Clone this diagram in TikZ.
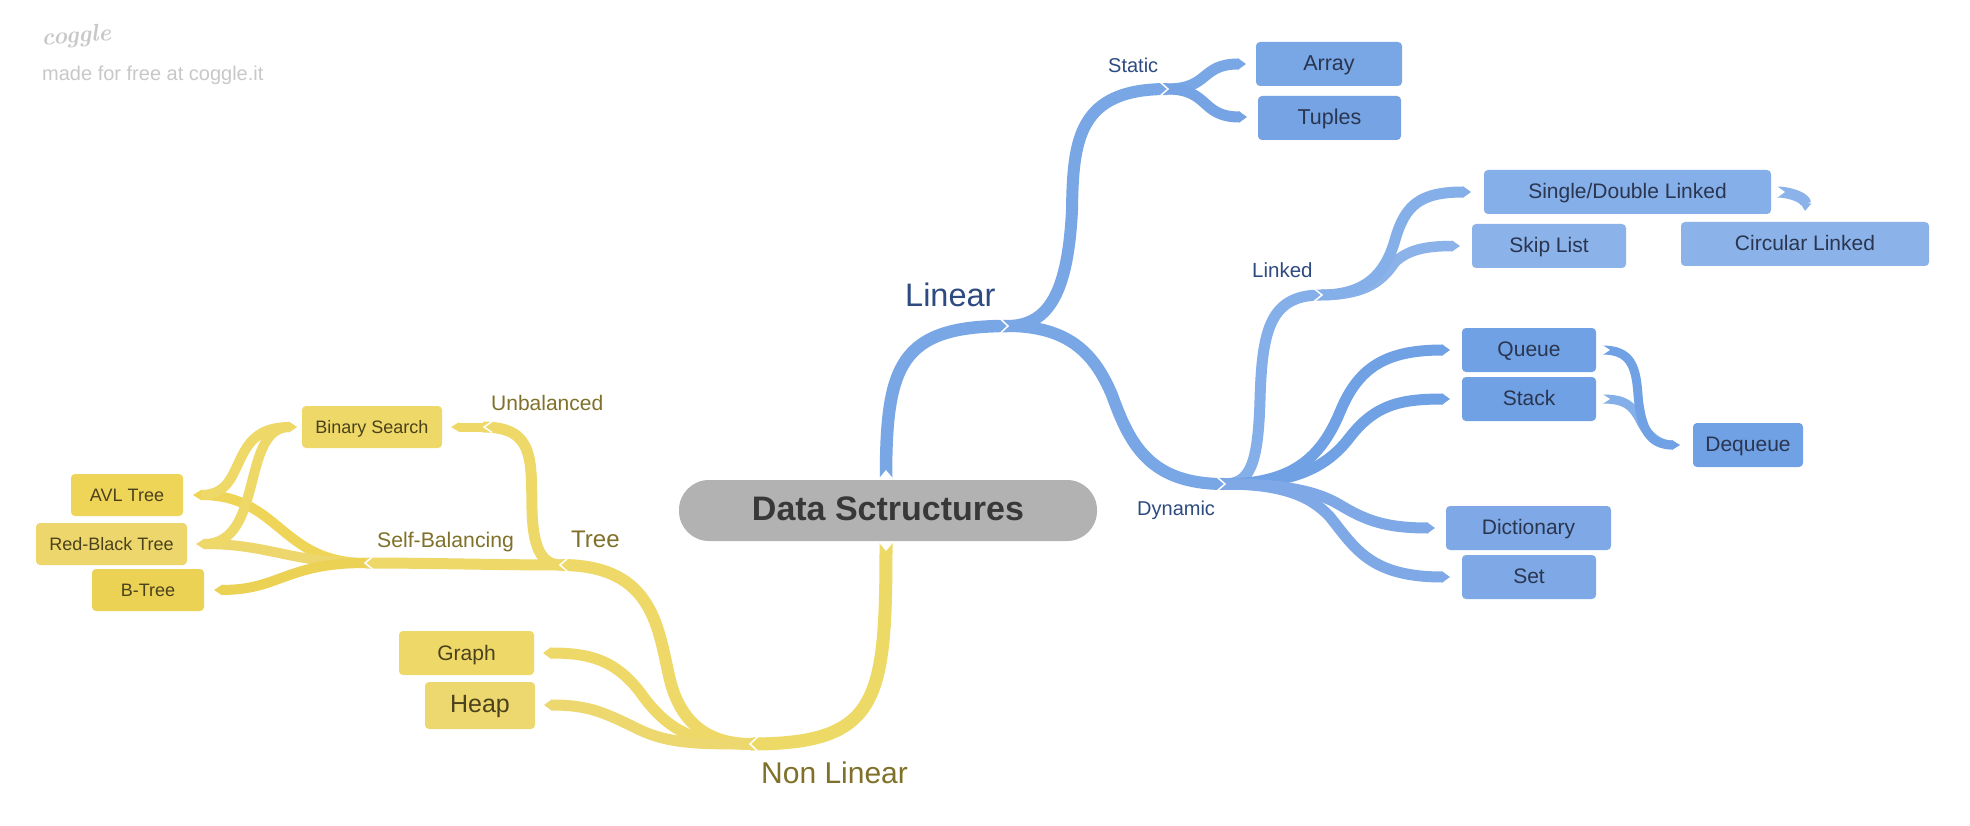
\documentclass[tikz,border=0pt]{standalone}
\usepackage{fontspec}
\newfontfamily\lib{Liberation Sans}
\usetikzlibrary{arrows.meta}
\definecolor{bLink}{HTML}{79A6E5}
\definecolor{bLkd}{HTML}{85AFE8}
\definecolor{bSkip}{HTML}{8BB3E9}
\definecolor{bQ}{HTML}{70A1E4}
\definecolor{bD}{HTML}{7EA9E6}
\definecolor{bT}{HTML}{75A3E3}
\definecolor{yN}{HTML}{EDD966}
\definecolor{yB}{HTML}{EED868}
\definecolor{yA}{HTML}{EED558}
\definecolor{yR}{HTML}{EDD66B}
\definecolor{yT}{HTML}{EBD255}
\definecolor{yH}{HTML}{EDD86F}
\definecolor{txB}{HTML}{2A3550}
\definecolor{txY}{HTML}{4A421C}
\definecolor{lbB}{HTML}{2D4B80}
\definecolor{lbY}{HTML}{7F7129}
\definecolor{logo}{HTML}{C8C8C8}
\tikzset{
  x=1pt,y=-1pt,
  ribbon/.style={line width=#1pt,line cap=butt,line join=round},
  tipped/.style={line width=#1pt,line cap=butt,line join=round,-{Triangle[length=8pt,width=#1pt]}},
  leafbox/.style n args={4}{draw=none,fill=#1,rounded corners=4pt,inner sep=0pt,
    minimum width=#2pt,minimum height=#3pt,text=#4},
  fs/.style={font=\lib\fontsize{#1}{#1}\selectfont},
  boxtext/.style={text height=#1pt,text depth=0pt},
  lab/.style={anchor=base west,inner sep=0pt},
  chev/.pic={\draw[white,line width=1.5pt,line join=miter] (-7,#1/2+1) -- (1,0) -- (-7,-#1/2-1);},
  notch/.pic={\fill[white] (-0.5,#1/2+1) -- (8,0) -- (-0.5,-#1/2-1) -- cycle;}
}
\begin{document}
\begin{tikzpicture}
\useasboundingbox (0,0) rectangle (1970,826);
\fill[white] (0,0) rectangle (1970,826);

% junctions and free ends
\coordinate (rT) at (886,478);
\coordinate (rB) at (886,543);
\coordinate (jLin) at (1007,326);
\coordinate (jSta) at (1167,89);
\coordinate (jDyn) at (1224,484);
\coordinate (jLkd) at (1321,295);
\coordinate (jNon) at (751,744);
\coordinate (jTree) at (561,565);
\coordinate (jSelf) at (366,563);
\coordinate (jUnb) at (483,427);
\coordinate (jAvl) at (193,495);
\coordinate (jAvlB) at (201,495);
\coordinate (jRed) at (196,544);
\coordinate (jRedB) at (204,544);
\coordinate (jQue) at (1602,350);
\coordinate (jSta2) at (1602,399);
\coordinate (jSin) at (1777,192);
\coordinate (eArr) at (1246,64);
\coordinate (eTup) at (1247,117);
\coordinate (eSin) at (1471,192);
\coordinate (eSki) at (1460,246);
\coordinate (eCir) at (1805,211);
\coordinate (eQue) at (1450,350);
\coordinate (eSta) at (1450,399);
\coordinate (eDeq) at (1680,445);
\coordinate (eDic) at (1435,528);
\coordinate (eSet) at (1450,577);
\coordinate (eBin) at (451,427);
\coordinate (eBin2) at (297,427);
\coordinate (eBtr) at (214,590);
\coordinate (eGra) at (543,653);
\coordinate (eHea) at (544,705);

% blue branches
\draw[ribbon=12.5,bLink] (rT) .. controls (886,365) and (900,326) .. (jLin);
\draw[ribbon=12,bLink] (jLin) .. controls (1050,326) and (1068,290) .. (1072,210) .. controls (1073,140) and (1078,89) .. (jSta);
\draw[ribbon=12,bLink] (jLin) .. controls (1070,326) and (1095,355) .. (1112,395) .. controls (1130,445) and (1150,484) .. (jDyn);
\draw[tipped=11,bLink] (jSta) .. controls (1210,89) and (1200,64) .. (eArr);
\draw[tipped=11,bT] (jSta) .. controls (1210,89) and (1200,117) .. (eTup);
\draw[ribbon=11,bLkd] (jDyn) .. controls (1250,484) and (1258,465) .. (1260,400) .. controls (1262,330) and (1270,295) .. (jLkd);
\draw[tipped=10.5,bSkip] (jLkd) .. controls (1360,295) and (1380,285) .. (1395,262) .. controls (1408,250) and (1425,246) .. (eSki);
\draw[tipped=11,bLkd] (jLkd) .. controls (1365,295) and (1385,275) .. (1395,240) .. controls (1405,205) and (1420,192) .. (eSin);
\draw[tipped=11,bQ] (jDyn) .. controls (1290,484) and (1320,460) .. (1340,412) .. controls (1358,368) and (1385,350) .. (eQue);
\draw[tipped=11,bQ] (jDyn) .. controls (1290,484) and (1325,470) .. (1350,437) .. controls (1375,405) and (1400,399) .. (eSta);
\draw[tipped=11,bD] (jDyn) .. controls (1280,484) and (1315,490) .. (1340,505) .. controls (1365,520) and (1385,528) .. (eDic);
\draw[tipped=11,bD] (jDyn) .. controls (1280,484) and (1310,495) .. (1330,517) .. controls (1355,548) and (1370,577) .. (eSet);
\draw[tipped=11,bSkip] (jSin) .. controls (1790,192) and (1806,198) .. (eCir);
\draw[tipped=9,bLkd] (jSta2) .. controls (1625,399) and (1632,405) .. (1640,420) .. controls (1648,437) and (1660,445) .. (eDeq);
\draw[tipped=9,bQ] (jQue) .. controls (1630,350) and (1636,365) .. (1638,395) .. controls (1641,430) and (1650,445) .. (eDeq);

% yellow branches
\draw[ribbon=13,yN] (rB) .. controls (886,700) and (880,744) .. (jNon);
\draw[ribbon=12,yB] (jNon) .. controls (705,744) and (680,720) .. (670,680) .. controls (658,630) and (655,565) .. (jTree);
\draw[tipped=11,yB] (jNon) .. controls (700,744) and (670,735) .. (640,692) .. controls (615,660) and (590,653) .. (eGra);
\draw[tipped=11,yH] (jNon) .. controls (700,744) and (670,744) .. (640,730) .. controls (605,713) and (590,705) .. (eHea);
\draw[ribbon=11,yB] (jTree) .. controls (500,565) and (430,563) .. (jSelf);
\draw[ribbon=11,yB] (jTree) .. controls (540,565) and (533,545) .. (532,510) .. controls (531,460) and (535,427) .. (jUnb);
\draw[tipped=9,yB] (jUnb) -- (eBin);
\draw[ribbon=10,yA] (jSelf) .. controls (280,563) and (280,495) .. (jAvlB);
\draw[ribbon=10,yR] (jSelf) .. controls (290,563) and (270,544) .. (jRedB);
\draw[tipped=10,yT] (jSelf) .. controls (285,563) and (280,590) .. (eBtr);
\draw[tipped=10,yB] (jAvlB) .. controls (250,495) and (225,427) .. (eBin2);
\draw[tipped=10,yB] (jRedB) .. controls (265,544) and (240,427) .. (eBin2);
% tips at the ends of AVL and Red-Black
\fill[yA] (jAvl) -- ([shift={(8,-5)}]jAvl) -- ([shift={(8,5)}]jAvl) -- cycle;
\fill[yR] (jRed) -- ([shift={(8,-5)}]jRed) -- ([shift={(8,5)}]jRed) -- cycle;

% white joints
\pic at (jLin) {chev=13};
\pic at (jSta) {chev=12};
\pic at (jDyn) {chev=12};
\pic at (jLkd) {chev=11};
\pic[rotate=180] at (jNon) {chev=13};
\pic[rotate=180] at (jTree) {chev=12};
\pic[rotate=180] at (jSelf) {chev=11};
\pic[rotate=180] at ([xshift=2pt]jUnb) {chev=9};
\pic[rotate=90] at (rT) {notch=12};
\pic[rotate=-90] at (rB) {notch=12};
\pic at (jQue) {notch=9};
\pic at (jSta2) {notch=9};
\pic at (jSin) {notch=10};

% boxes
\node[leafbox={bLink}{146}{44}{txB},fs=21.5,boxtext=13.4] (array) at (1329,64) {Array};
\node[leafbox={bT}{143}{44}{txB},fs=21.5,boxtext=13.4] (tuples) at (1329.5,118) {Tuples};
\node[leafbox={bLkd}{287}{44}{txB},fs=21,boxtext=13.4] (single) at (1627.5,192) {Single/Double Linked};
\node[leafbox={bSkip}{154}{44}{txB},fs=21,boxtext=13.4] (skip) at (1549,246) {Skip List};
\node[leafbox={bSkip}{248}{44}{txB},fs=21,boxtext=13.4] (circ) at (1805,244) {Circular Linked};
\node[leafbox={bQ}{134}{44}{txB},fs=21,boxtext=13.4] (queue) at (1529,350) {Queue};
\node[leafbox={bQ}{134}{44}{txB},fs=21,boxtext=13.4] (stack) at (1529,399) {Stack};
\node[leafbox={bQ}{110}{44}{txB},fs=21,boxtext=13.4] (deq) at (1748,445) {Dequeue};
\node[leafbox={bD}{165}{44}{txB},fs=21,boxtext=13.4] (dict) at (1528.5,528) {Dictionary};
\node[leafbox={bD}{134}{44}{txB},fs=21,boxtext=13.4] (set) at (1529,577) {Set};
\node[leafbox={yB}{140}{42}{txY},fs=18,boxtext=12.4] (bin) at (372,427) {Binary Search};
\node[leafbox={yA}{112}{42}{txY},fs=18,boxtext=12.4] (avl) at (127,495) {AVL Tree};
\node[leafbox={yR}{151}{42}{txY},fs=18,boxtext=12.4] (red) at (111.5,544) {Red-Black Tree};
\node[leafbox={yT}{112}{42}{txY},fs=18,boxtext=12.4] (btree) at (148,590) {B-Tree};
\node[leafbox={yB}{135}{44}{txY},fs=21,boxtext=14] (graph) at (466.5,653) {Graph};
\node[leafbox={yH}{110}{47}{txY},fs=25,boxtext=14] (heap) at (480,705.5) {Heap};
\node[draw=none,fill=black!30,rounded corners=30pt,inner sep=0pt,minimum width=418pt,minimum height=61pt,
  text=black!78,font=\lib\bfseries\fontsize{34}{34}\selectfont,text height=19pt,text depth=0pt] (root) at (888,510.5) {Data Sctructures};

% plain labels
\node[lab,text=lbB,fs=32.5] (linear) at (905,306) {Linear};
\node[lab,text=lbB,fs=20] (static) at (1108,73) {Static};
\node[lab,text=lbB,fs=20.5] (linked) at (1252,278) {Linked};
\node[lab,text=lbB,fs=20] (dynamic) at (1137,515) {Dynamic};
\node[lab,text=lbY,fs=24] (tree) at (571,547) {Tree};
\node[lab,text=lbY,fs=30] (nonlin) at (761,783) {Non Linear};
\node[lab,text=lbY,fs=21.2] (self) at (377,547) {Self-Balancing};
\node[lab,text=lbY,fs=21] (unbal) at (491,410) {Unbalanced};
\node[lab,text=logo,fs=20] (made) at (42,81) {made for free at coggle.it};
\node[lab,text=logo,font=\bfseries\itshape\fontsize{24}{24}\selectfont,rotate=5] (coggle) at (42,46) {coggle};
\end{tikzpicture}
\end{document}
